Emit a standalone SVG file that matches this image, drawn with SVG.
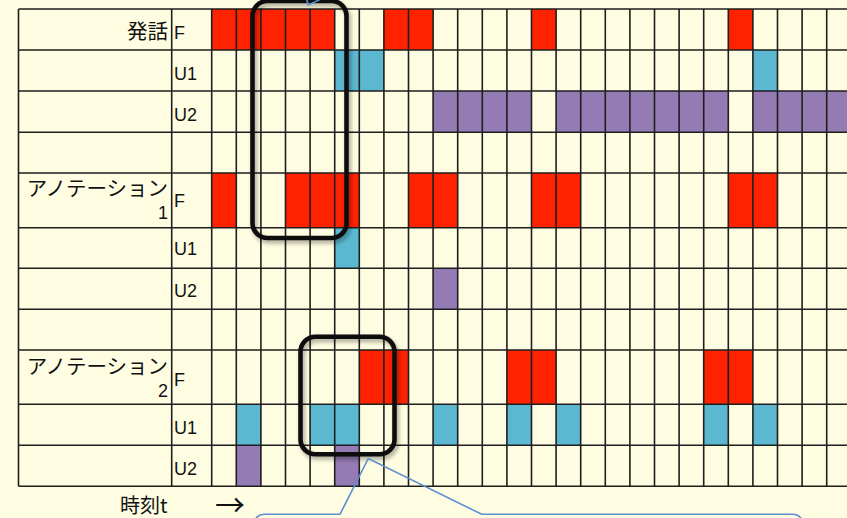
<svg xmlns="http://www.w3.org/2000/svg" width="847" height="518" viewBox="0 0 847 518">
<defs>
<style>
.bg{fill:#FFFDE1}
.r{fill:#FF2200}
.b{fill:#5BB8D0}
.p{fill:#957BB3}
.grid{stroke:#1E1E1E;stroke-width:1.6;fill:none}
.jp{font-family:"Noto Sans CJK JP","Noto Sans",sans-serif;font-size:20.5px;fill:#111}
.lat{font-family:"Liberation Sans","Arial",sans-serif;font-size:18px;fill:#111}
.hl{fill:none;stroke:#0A0A0A;stroke-width:4.6}
.call{fill:none;stroke:#5B8FCF;stroke-width:1.6;stroke-linejoin:miter}
</style>
<filter id="sh" x="-20%" y="-20%" width="140%" height="140%">
<feDropShadow dx="2" dy="3" stdDeviation="2" flood-color="#000" flood-opacity="0.35"/>
</filter>
</defs>
<rect class="bg" x="0" y="0" width="847" height="518"/>

<g id="row-hatsuwa-F">
<rect class="r" x="211.7" y="9" width="123" height="41"/>
<rect class="r" x="383.9" y="9" width="49.2" height="41"/>
<rect class="r" x="531.5" y="9" width="24.6" height="41"/>
<rect class="r" x="728.3" y="9" width="24.6" height="41"/>
<text class="jp" x="168" y="38.5" text-anchor="end">発話</text>
<text class="lat" x="174" y="38.5">F</text>
</g>
<g id="row-hatsuwa-U1">
<rect class="b" x="334.7" y="50" width="49.2" height="41"/>
<rect class="b" x="752.9" y="50" width="24.6" height="41"/>
<text class="lat" x="174" y="79.5">U1</text>
</g>
<g id="row-hatsuwa-U2">
<rect class="p" x="433.1" y="91" width="98.4" height="41.3"/>
<rect class="p" x="556.1" y="91" width="172.2" height="41.3"/>
<rect class="p" x="752.9" y="91" width="98.4" height="41.3"/>
<text class="lat" x="174" y="120.5">U2</text>
</g>
<g id="row-annotation1-F">
<rect class="r" x="211.7" y="173" width="24.6" height="54.7"/>
<rect class="r" x="285.5" y="173" width="73.8" height="54.7"/>
<rect class="r" x="408.5" y="173" width="49.2" height="54.7"/>
<rect class="r" x="531.5" y="173" width="49.2" height="54.7"/>
<rect class="r" x="728.3" y="173" width="49.2" height="54.7"/>
<text class="jp" x="168" y="196" text-anchor="end">アノテーション</text>
<text class="lat" x="168" y="218.5" text-anchor="end">1</text>
<text class="lat" x="174" y="207">F</text>
</g>
<g id="row-annotation1-U1">
<rect class="b" x="334.7" y="227.7" width="24.6" height="40.6"/>
<text class="lat" x="174" y="255.3">U1</text>
</g>
<g id="row-annotation1-U2">
<rect class="p" x="433.1" y="268.3" width="24.6" height="41"/>
<text class="lat" x="174" y="297">U2</text>
</g>
<g id="row-annotation2-F">
<rect class="r" x="359.3" y="350" width="49.2" height="54.3"/>
<rect class="r" x="506.9" y="350" width="49.2" height="54.3"/>
<rect class="r" x="703.7" y="350" width="49.2" height="54.3"/>
<text class="jp" x="168" y="373.5" text-anchor="end">アノテーション</text>
<text class="lat" x="168" y="397" text-anchor="end">2</text>
<text class="lat" x="174" y="386">F</text>
</g>
<g id="row-annotation2-U1">
<rect class="b" x="236.3" y="404.3" width="24.6" height="41"/>
<rect class="b" x="310.1" y="404.3" width="49.2" height="41"/>
<rect class="b" x="433.1" y="404.3" width="24.6" height="41"/>
<rect class="b" x="506.9" y="404.3" width="24.6" height="41"/>
<rect class="b" x="556.1" y="404.3" width="24.6" height="41"/>
<rect class="b" x="703.7" y="404.3" width="24.6" height="41"/>
<rect class="b" x="752.9" y="404.3" width="24.6" height="41"/>
<text class="lat" x="174" y="433.5">U1</text>
</g>
<g id="row-annotation2-U2">
<rect class="p" x="236.3" y="445.3" width="24.6" height="41"/>
<rect class="p" x="334.7" y="445.3" width="24.6" height="41"/>
<text class="lat" x="174" y="474.5">U2</text>
</g>

<g id="grid">
<path class="grid" d="M18.5 9H851M18.5 50H851M18.5 91H851M18.5 132.3H851M18.5 173H851M18.5 227.7H851M18.5 268.3H851M18.5 309.3H851M18.5 350H851M18.5 404.3H851M18.5 445.3H851M18.5 486.3H851"/>
<path class="grid" d="M18.5 9V486.3M171.7 9V486.3M211.7 9V486.3M236.3 9V486.3M260.9 9V486.3M285.5 9V486.3M310.1 9V486.3M334.7 9V486.3M359.3 9V486.3M383.9 9V486.3M408.5 9V486.3M433.1 9V486.3M457.7 9V486.3M482.3 9V486.3M506.9 9V486.3M531.5 9V486.3M556.1 9V486.3M580.7 9V486.3M605.3 9V486.3M629.9 9V486.3M654.5 9V486.3M679.1 9V486.3M703.7 9V486.3M728.3 9V486.3M752.9 9V486.3M777.5 9V486.3M802.1 9V486.3M826.7 9V486.3"/>
</g>

<g id="time-axis">
<text class="jp" x="120" y="513" style="font-size:20px">時刻t</text>
<text class="jp" x="215" y="516" style="font-size:30px">→</text>
</g>

<g id="highlight-1" filter="url(#sh)">
<rect class="hl" x="252.5" y="1" width="94" height="237" rx="15"/>
</g>
<g id="highlight-2" filter="url(#sh)">
<rect class="hl" x="300.5" y="336.7" width="94" height="117.5" rx="15"/>
</g>

<g id="connectors">
<path class="call" d="M306.5 -1L308.3 5L321 -1"/>
<path class="call" d="M254 530V524A10 10 0 0 1 264 514.3H340L368.3 458.5L481.7 514.3H793A10 10 0 0 1 803 524.3V530"/>
</g>
</svg>
